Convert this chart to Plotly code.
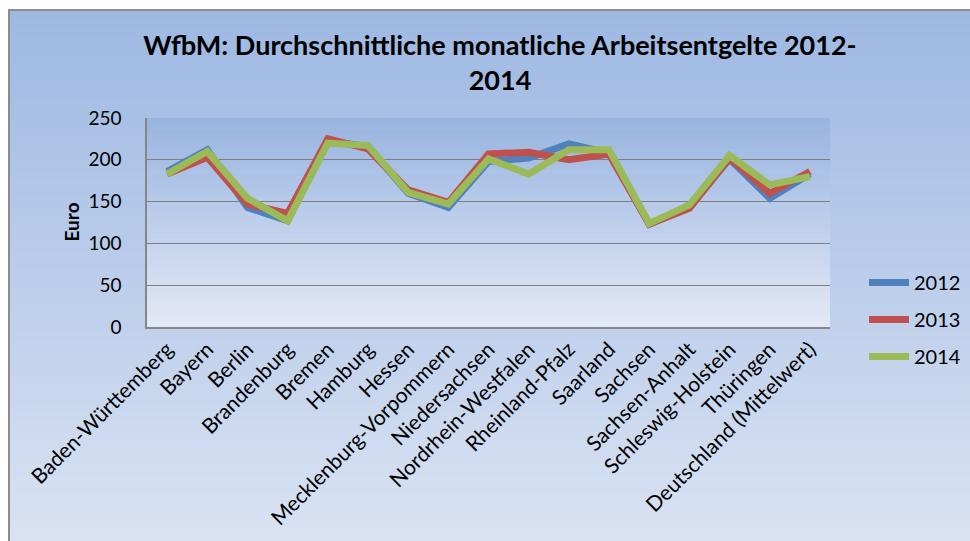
import plotly.graph_objects as go

categories = ["Baden-Württemberg", "Bayern", "Berlin", "Brandenburg", "Bremen", "Hamburg",
              "Hessen", "Mecklenburg-Vorpommern", "Niedersachsen", "Nordrhein-Westfalen",
              "Rheinland-Pfalz", "Saarland", "Sachsen", "Sachsen-Anhalt", "Schleswig-Holstein",
              "Thüringen", "Deutschland (Mittelwert)"]
series_names = ["2012", "2013", "2014"]
v2012 = [186, 212, 143, 127, 222, 216, 160, 143, 198, 202, 219, 208, 123, 144, 201, 154, 183]
v2013 = [183, 203, 147, 136, 225, 213, 164, 149, 207, 209, 200, 207, 123, 142, 202, 160, 186]
v2014 = [183, 210, 154, 127, 220, 217, 161, 147, 201, 183, 212, 212, 124, 146, 205, 170, 180]
y_ticks = [0, 50, 100, 150, 200, 250]
colors = ["#4F81BD", "#C0504D", "#9BBB59"]

W, H = 970, 541
L, R, T, B = 147, 830, 118, 327  # plot area in pixels


def px(x):
    return (x - L) / (R - L)


def py(y):
    return (B - y) / (B - T)


def mix(c1, c2, t):
    return "rgb(%d,%d,%d)" % tuple(round(a + (b - a) * t) for a, b in zip(c1, c2))


shapes = []
# outer background gradient
n = 60
x0, x1, y0, y1 = 9, 976, 10, 546
top_c, bot_c = (157, 184, 226), (218, 227, 243)
for i in range(n):
    ya = y0 + (y1 - y0) * i / n
    yb = y0 + (y1 - y0) * (i + 1) / n + 1
    shapes.append(dict(type="rect", xref="paper", yref="paper", layer="below",
                       x0=px(x0), x1=px(x1), y0=py(ya), y1=py(yb),
                       fillcolor=mix(top_c, bot_c, (i + 0.5) / n), line=dict(width=0)))
# plot area gradient
m = 40
ptop, pbot = (152, 180, 224), (227, 233, 246)
for i in range(m):
    ya = T + (B - T) * i / m
    yb = min(B, T + (B - T) * (i + 1) / m + 0.6)
    shapes.append(dict(type="rect", xref="paper", yref="paper", layer="below",
                       x0=0, x1=1, y0=py(ya), y1=py(yb),
                       fillcolor=mix(ptop, pbot, (i + 0.5) / m), line=dict(width=0)))
# outer frame
shapes.append(dict(type="rect", xref="paper", yref="paper", layer="below",
                   x0=px(x0), x1=px(x1), y0=py(y0), y1=py(y1),
                   fillcolor="rgba(0,0,0,0)", line=dict(color="#8C8C8C", width=2)))

fig = go.Figure()
for name, vals, col in zip(series_names, [v2012, v2013, v2014], colors):
    fig.add_trace(go.Scatter(x=categories, y=vals, name=name, mode="lines",
                             legendgroup=name,
                             line=dict(color=col, width=7)))

fig.update_layout(
    width=W, height=H,
    margin=dict(l=L, r=W - R, t=T, b=H - B, autoexpand=False),
    paper_bgcolor="white",
    plot_bgcolor="rgba(0,0,0,0)",
    font=dict(family="Lato, Open Sans, sans-serif", color="black"),
    shapes=shapes,
    title=dict(text="<b>WfbM: Durchschnittliche monatliche Arbeitsentgelte 2012-<br>2014</b>",
               x=500 / W, xanchor="center", xref="container",
               y=1 - 55 / H, yanchor="middle", yref="container",
               font=dict(size=27, family="Lato, sans-serif")),
    showlegend=True,
    legend=dict(x=px(864), xanchor="left", y=py(263), yanchor="top",
                bgcolor="rgba(0,0,0,0)", font=dict(size=20),
                tracegroupgap=8, itemwidth=40),
    annotations=[dict(text="<b>Euro</b>", textangle=-90, x=px(57), y=py(222),
                      xref="paper", yref="paper", showarrow=False,
                      font=dict(size=19))],
)
fig.update_xaxes(type="category", range=[-0.5, len(categories) - 0.5],
                 tickangle=-45, tickfont=dict(size=21), showgrid=False,
                 showline=True, linecolor="#868686", linewidth=1.5, ticks="",
                 zeroline=False)
fig.update_yaxes(range=[0, 250], tickvals=y_ticks, tickfont=dict(size=19),
                 showgrid=True, gridcolor="#7F7F7F", gridwidth=1.2,
                 showline=True, linecolor="#868686", linewidth=1.5,
                 ticks="", ticklabelstandoff=20, zeroline=False)

fig.write_html("out.html", config={"displayModeBar": False},
               post_script="document.body.style.margin='0';document.body.style.overflow='hidden';")
